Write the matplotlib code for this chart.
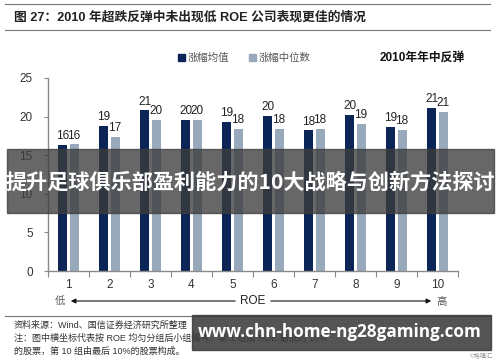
import matplotlib
matplotlib.use("Agg")
import matplotlib.pyplot as plt
from matplotlib.patches import Rectangle, FancyArrowPatch
import numpy as np

plt.rcParams['font.family'] = ['Liberation Sans', 'Noto Sans CJK SC', 'DejaVu Sans']

groups = [1, 2, 3, 4, 5, 6, 7, 8, 9, 10]
mean_vals = [16.3, 18.8, 20.8, 19.6, 19.3, 20.1, 18.2, 20.2, 18.7, 21.1]
median_vals = [16.4, 17.4, 19.6, 19.6, 18.4, 18.4, 18.4, 19.1, 18.3, 20.6]
mean_labels = ["16", "19", "21", "20", "19", "20", "18", "20", "19", "21"]
median_labels = ["16", "17", "20", "20", "18", "18", "18", "19", "18", "21"]
yticks = [0, 5, 10, 15, 20, 25]
series_names = ["涨幅均值", "涨幅中位数"]
title = "图 27：2010 年超跌反弹中未出现低 ROE 公司表现更佳的情况"
subtitle = "2010年年中反弹"
banner_text = "提升足球俱乐部盈利能力的10大战略与创新方法探讨"
url_text = "www.chn-home-ng28gaming.com"
notes = ["资料来源：Wind、国信证券经济研究所整理",
         "注：图中横坐标代表按 ROE 均匀分组后小组编号，第 1 组由 ROE 最低的 10%",
         "的股票，第 10 组由最后 10%的股票构成。"]

W, H = 500, 362
fig = plt.figure(figsize=(W / 100, H / 100), dpi=100)
fig.patch.set_facecolor("white")

def fx(px):
    return px / W

def fy(py):
    return 1 - py / H

dark = "#0B2656"
light = "#98A9BC"
gray_txt = "#555555"

ax = fig.add_axes([fx(48), fy(271), fx(458) - fx(48), fy(78) - fy(271)])
x = np.array(groups, dtype=float)
off = 0.135
bw = 0.22
ax.bar(x - off, mean_vals, width=bw, color=dark, zorder=2)
ax.bar(x + off, median_vals, width=bw, color=light, zorder=2)
for xi, v, lab in zip(x, mean_vals, mean_labels):
    ax.text(xi - off, v + 0.35, lab, ha="center", va="bottom", fontsize=8.5, color="#222222")
for xi, v, lab in zip(x, median_vals, median_labels):
    ax.text(xi + off, v + 0.35, lab, ha="center", va="bottom", fontsize=8.5, color="#222222")

ax.set_xlim(0.5, 10.5)
ax.set_ylim(0, 25)
ax.set_yticks(yticks)
ax.set_yticklabels([str(t) for t in yticks], fontsize=8.5, color="#333333")
ax.set_xticks(np.arange(0.5, 11, 1.0))
ax.set_xticklabels([])
ax.set_xticks(x, minor=True)
ax.set_xticklabels([str(g) for g in groups], minor=True, fontsize=8.5, color="#333333")
ax.tick_params(axis="x", which="minor", length=0, pad=6)
ax.tick_params(axis="x", which="major", length=4, color="#888888", direction="out")
ax.tick_params(axis="y", length=3, color="#888888", pad=8)
for s in ["top", "right"]:
    ax.spines[s].set_visible(False)
for s in ["left", "bottom"]:
    ax.spines[s].set_color("#8a8a8a")
    ax.spines[s].set_linewidth(1.0)

# header lines & title
fig.add_artist(plt.Line2D([fx(5), fx(490)], [fy(4), fy(4)], color="#777777", lw=0.8))
fig.add_artist(plt.Line2D([fx(5), fx(490)], [fy(30), fy(30)], color="#777777", lw=0.8))
fig.text(fx(14), fy(17), title, fontsize=9.2, fontweight="bold", color="#222222", va="center",
         family=['Liberation Sans', 'Noto Sans CJK SC'])

# legend
fig.add_artist(Rectangle((fx(178), fy(61)), fx(7), fy(54) - fy(61), color=dark))
fig.text(fx(188), fy(57.5), series_names[0], fontsize=7.5, color=gray_txt, va="center")
fig.add_artist(Rectangle((fx(249), fy(61)), fx(7), fy(54) - fy(61), color=light))
fig.text(fx(259), fy(57.5), series_names[1], fontsize=7.5, color=gray_txt, va="center")
fig.text(fx(380), fy(57.5), subtitle, fontsize=8.5, fontweight="bold", color="#111111", va="center")

# ROE arrows
fig.text(fx(60), fy(301), "低", fontsize=7.5, color=gray_txt, ha="center", va="center")
fig.add_artist(FancyArrowPatch((fx(238), fy(301)), (fx(68), fy(301)), arrowstyle="-|>",
                               mutation_scale=7, color="#111111", lw=0.8))
fig.text(fx(253), fy(301), "ROE", fontsize=8.5, color="#222222", ha="center", va="center")
fig.add_artist(FancyArrowPatch((fx(268), fy(301)), (fx(434), fy(301)), arrowstyle="-|>",
                               mutation_scale=7, color="#111111", lw=0.8))
fig.text(fx(442), fy(302), "高", fontsize=7.5, color=gray_txt, ha="center", va="center")

# footer
fig.add_artist(plt.Line2D([fx(5), fx(490)], [fy(316), fy(316)], color="#777777", lw=0.8))
for i, line in enumerate(notes):
    fig.text(fx(14), fy(325 + 13 * i), line, fontsize=6.5, color="#333333", va="center")
fig.text(fx(493), fy(356), "©格隆汇", fontsize=4.5, color="#999999", ha="right", va="center")

# overlay banners
fig.add_artist(Rectangle((fx(7), fy(213)), fx(487), fy(149) - fy(213), color="#3c3c3c", alpha=0.78, zorder=10))
fig.text(fx(250), fy(182), banner_text, fontsize=15.2, fontweight="bold", color="white",
         ha="center", va="center", zorder=11, family=['Noto Sans CJK SC', 'DejaVu Sans'])
fig.add_artist(Rectangle((fx(192), fy(350)), fx(299), fy(315) - fy(350), color="#3c3c3c", alpha=0.88, zorder=10))
fig.text(fx(340), fy(332), url_text, fontsize=12.3, fontweight="bold", color="white",
         ha="center", va="center", zorder=11, family=['Open Sans', 'DejaVu Sans'])

fig.savefig("out.png", dpi=100)
